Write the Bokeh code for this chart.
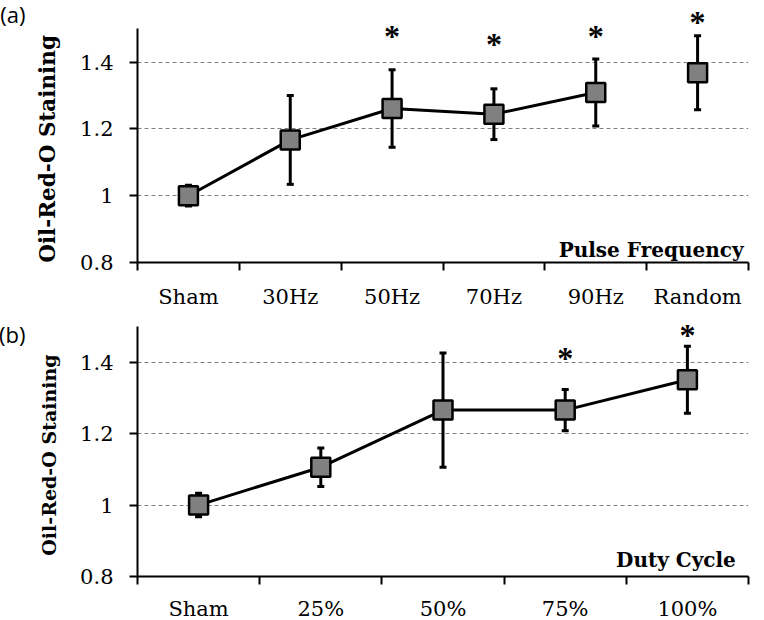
from bokeh.plotting import figure
from bokeh.models import (ColumnDataSource, FixedTicker, LabelSet, Label, Range1d,
                          LinearAxis, CustomJSTickFormatter, PrintfTickFormatter)
from bokeh.layouts import column
from bokeh.embed import file_html
from bokeh.resources import INLINE

# ---------------- data ----------------
freq_labels = ["Sham", "30Hz", "50Hz", "70Hz", "90Hz", "Random"]
freq_mean = [1.000, 1.167, 1.261, 1.244, 1.309, 1.368]
freq_err = [0.031, 0.133, 0.116, 0.076, 0.100, 0.111]
freq_star_labels = ["50Hz", "70Hz", "90Hz", "Random"]
freq_star_y = [1.489, 1.465, 1.489, 1.531]

duty_labels = ["Sham", "25%", "50%", "75%", "100%"]
duty_mean = [1.000, 1.106, 1.266, 1.266, 1.351]
duty_err = [0.033, 0.054, 0.160, 0.058, 0.094]
duty_star_labels = ["75%", "100%"]
duty_star_y = [1.422, 1.487]

y_ticks = [0.8, 1.0, 1.2, 1.4]
y_min, y_max = 0.8, 1.5
y_label = "Oil-Red-O Staining"

SERIF = "DejaVu Serif"


def make_panel(labels, mean, err, star_labels, star_y, n_line, title, tag,
               width, height, b_left, b_right, b_bottom, y_top,
               tag_y, tag_standoff, label_size, x_standoff, title_pos):
    n = len(labels)
    xs = [i + 0.5 for i in range(n)]
    p = figure(width=width, height=height, output_backend="svg",
               toolbar_location=None, x_range=Range1d(0, n),
               y_range=Range1d(y_min, y_top),
               min_border_left=b_left, min_border_right=b_right,
               min_border_top=0, min_border_bottom=b_bottom)
    p.outline_line_color = None
    p.background_fill_color = "white"
    p.border_fill_color = "white"

    # grid
    p.xgrid.visible = False
    p.ygrid.ticker = FixedTicker(ticks=y_ticks)
    p.ygrid.grid_line_color = "#7f7f7f"
    p.ygrid.grid_line_dash = "4 3"
    p.ygrid.grid_line_width = 1

    # x axis: labels at category centres, tick marks at boundaries
    xa = p.xaxis[0]
    xa.ticker = FixedTicker(ticks=xs, minor_ticks=list(range(n + 1)))
    xa.formatter = CustomJSTickFormatter(
        args=dict(labels=labels),
        code="const i = Math.floor(tick); return (i >= 0 && i < labels.length) ? labels[i] : '';")
    xa.major_tick_out = 0
    xa.major_tick_in = 0
    xa.minor_tick_out = 8
    xa.minor_tick_in = 0
    xa.minor_tick_line_width = 2
    xa.minor_tick_line_color = "black"
    xa.axis_line_width = 2
    xa.axis_line_color = "black"
    xa.major_label_text_font = SERIF
    xa.major_label_text_font_size = "21px"
    xa.major_label_text_color = "black"
    xa.major_label_standoff = x_standoff

    # y axis (line limited to 0.8 - 1.5)
    ya = p.yaxis[0]
    ya.bounds = (y_min, y_max)
    ya.ticker = FixedTicker(ticks=y_ticks, minor_ticks=[])
    ya.formatter = PrintfTickFormatter(format="%g")
    ya.major_tick_out = 8
    ya.major_tick_in = 0
    ya.major_tick_line_width = 2
    ya.major_tick_line_color = "black"
    ya.axis_line_width = 2
    ya.axis_line_color = "black"
    ya.major_label_text_font = SERIF
    ya.major_label_text_font_size = "21px"
    ya.major_label_text_color = "black"
    ya.major_label_standoff = 16

    # y title, centred on the axis line (line-less outer axis)
    lab_axis = LinearAxis(ticker=FixedTicker(ticks=[(y_min + y_max) / 2 - 0.01], minor_ticks=[]),
                          formatter=CustomJSTickFormatter(args=dict(t=y_label), code="return t;"),
                          axis_line_color=None, major_tick_line_color=None,
                          minor_tick_line_color=None, major_tick_out=0, major_tick_in=0,
                          major_label_standoff=17,
                          major_label_orientation="vertical",
                          major_label_text_font=SERIF,
                          major_label_text_font_style="bold",
                          major_label_text_font_size=label_size,
                          major_label_text_color="black")
    p.add_layout(lab_axis, "left")

    # panel tag "(a)" / "(b)" as an outer, line-less axis
    tag_axis = LinearAxis(ticker=FixedTicker(ticks=[tag_y], minor_ticks=[]),
                          formatter=CustomJSTickFormatter(args=dict(t=tag), code="return t;"),
                          axis_line_color=None, major_tick_line_color=None,
                          minor_tick_line_color=None, major_tick_out=0, major_tick_in=0,
                          major_label_standoff=tag_standoff,
                          major_label_text_font="Open Sans",
                          major_label_text_font_size="22px",
                          major_label_text_color="black")
    p.add_layout(tag_axis, "left")

    src = ColumnDataSource(dict(
        x=xs, y=mean,
        lo=[m - e for m, e in zip(mean, err)],
        hi=[m + e for m, e in zip(mean, err)],
    ))
    # error bars
    p.segment(x0="x", y0="lo", x1="x", y1="hi", source=src,
              line_color="black", line_width=3)
    p.scatter(x="x", y="lo", source=src, marker="dash", size=7,
              line_color="black", line_width=3)
    p.scatter(x="x", y="hi", source=src, marker="dash", size=7,
              line_color="black", line_width=3)
    # connecting line
    p.line(x=xs[:n_line], y=mean[:n_line], line_color="black", line_width=3)
    # markers
    p.scatter(x="x", y="y", source=src, marker="square", size=19,
              fill_color="#808080", line_color="black", line_width=2.5)

    # significance stars
    star_src = ColumnDataSource(dict(
        x=[labels.index(s) + 0.5 for s in star_labels],
        y=star_y,
        t=["*"] * len(star_labels),
    ))
    p.add_layout(LabelSet(x="x", y="y", text="t", source=star_src,
                          text_align="center", text_baseline="top",
                          y_offset=14,
                          text_font="DejaVu Sans", text_font_style="bold",
                          text_font_size="32px", text_color="black"))

    p.add_layout(Label(x=title_pos[0], y=title_pos[1], text=title,
                       text_align="right", text_baseline="alphabetic",
                       text_font=SERIF, text_font_style="bold",
                       text_font_size="20px", text_color="black"))
    return p


pA = make_panel(freq_labels, freq_mean, freq_err, freq_star_labels, freq_star_y,
                5, "Pulse Frequency", "(a)", 764, 321, 139, 12, 55, 1.5964,
                1.543, 7, "21.5px", 14, (5.951, 0.836))
pB = make_panel(duty_labels, duty_mean, duty_err, duty_star_labels, duty_star_y,
                5, "Duty Cycle", "(b)", 764, 314, 139, 2, 55, 1.5253,
                1.48, 10, "19px", 12, (4.896, 0.845))

layout = column(pA, pB, spacing=0)
layout.styles = {"margin-left": "-4px", "margin-top": "-4px", "margin-bottom": "-12px"}

open("out.html", "w").write(file_html(layout, INLINE))
